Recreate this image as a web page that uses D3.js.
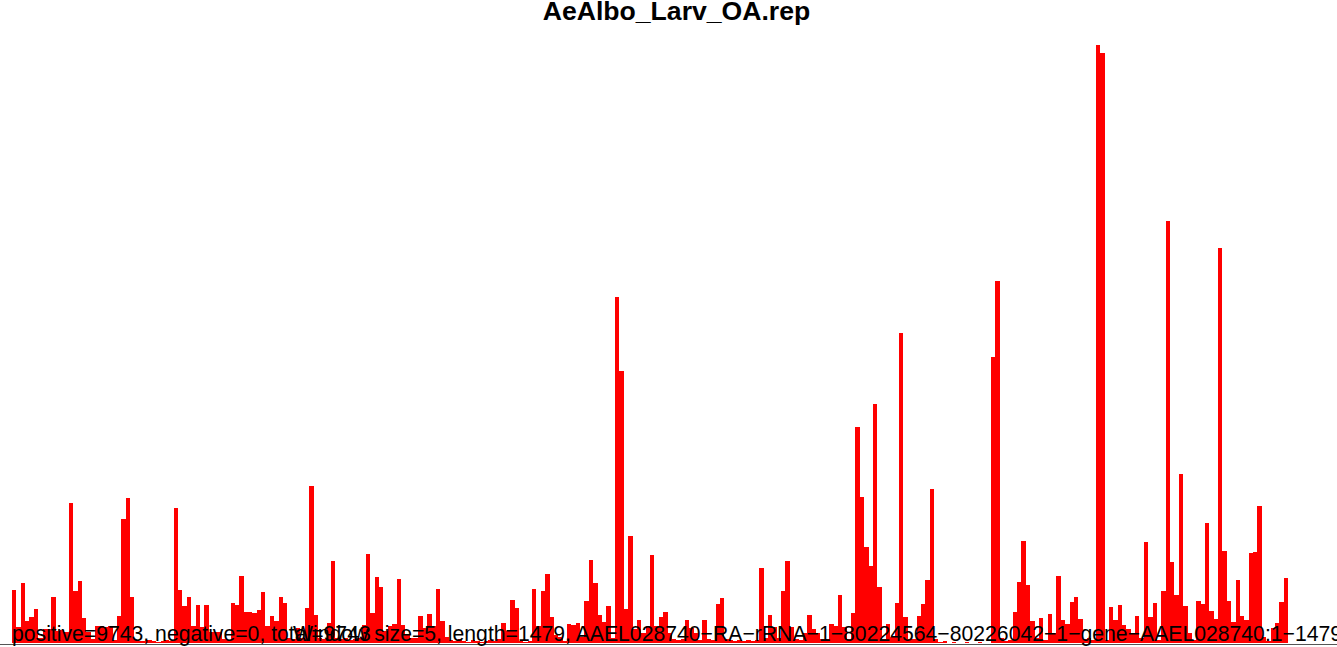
<!DOCTYPE html>
<html>
<head>
<meta charset="utf-8">
<script src="https://cdn.jsdelivr.net/npm/d3@7"></script>
<style>
  html, body { margin: 0; padding: 0; background: #ffffff; }
  svg { display: block; }
  text { font-family: "Liberation Sans", Arial, Helvetica, sans-serif; }
</style>
</head>
<body>
<script>
// ---- data ----
const chartTitle = "AeAlbo_Larv_OA.rep";
const statsLabel = "positive=9743, negative=0, total=9743";
const infoLabel = "Window size=5, length=1479, AAEL028740\u2212RA\u2212rRNA\u22121\u221280224564\u221280226042\u22121\u2212gene\u2212AAEL028740:1\u22121479";
const windowSize = 5;
const seqLength = 1479;

// coverage per 5-nt window (positive strand)
const positive = [
  53,16,60,22,26,34,5,14,14,46, 12,13,11,140,52,62,25,11,4,17,
  17,16,17,3,27,124,145,46,3,2, 2,3,2,1,2,3,2,135,53,37,
  46,17,38,16,38,11,11,11,4,3, 40,38,67,31,31,30,33,51,17,27,
  22,46,40,5,4,15,5,35,157,28, 5,4,20,82,5,4,5,3,4,5,
  18,89,30,66,56,12,17,19,64,18, 8,5,5,27,15,29,17,54,22,6,
  3,2,4,2,1,3,2,1,2,3, 2,4,20,12,43,35,2,1,2,54,
  17,52,69,26,8,6,2,19,18,20, 6,42,83,60,28,21,37,5,346,272,
  34,107,14,23,10,17,88,17,26,31, 10,4,3,4,23,15,10,3,23,4,
  3,39,45,4,3,2,3,2,3,2, 3,75,5,28,16,5,52,82,16,4,
  3,10,28,14,10,4,4,19,17,48, 16,4,30,216,146,96,77,239,56,4,
  19,6,40,310,26,4,4,27,39,63, 154,4,1,2,0,1,0,0,1,0,
  0,1,0,0,286,362,5,2,3,31, 61,102,58,22,5,25,3,29,10,67,
  23,19,41,46,24,4,5,3,598,590, 3,36,23,38,18,14,10,27,5,101,
  26,40,3,52,422,81,48,169,37,10, 3,42,39,120,32,24,395,92,42,21,
  63,27,23,90,91,137,6,2,15,20, 41,65,0,0,0,0
];
// window index (categories)
const windows = positive.map((_, i) => i);

// ---- drawing ----
const W = 1337, H = 647;
const svg = d3.select("body").append("svg").attr("width", W).attr("height", H);

const x = d3.scaleBand()
  .domain(windows)
  .range([12, 12 + windows.length * 4.37])
  .paddingInner(0).paddingOuter(0);

const y = d3.scaleLinear()
  .domain([0, d3.max(positive)])
  .range([643, 45]);

svg.append("g")
  .selectAll("rect")
  .data(positive)
  .join("rect")
  .attr("x", (d, i) => x(windows[i]))
  .attr("width", x.bandwidth())
  .attr("y", d => y(d))
  .attr("height", d => y(0) - y(d))
  .attr("fill", "#ff0000")
  .attr("shape-rendering", "crispEdges");

// baseline
svg.append("line")
  .attr("x1", 0).attr("x2", W)
  .attr("y1", 644.5).attr("y2", 644.5)
  .attr("stroke", "#555555").attr("stroke-width", 1);

// title
svg.append("text")
  .attr("x", W / 2 + 8)
  .attr("y", 19.5)
  .attr("text-anchor", "middle")
  .attr("font-weight", "bold")
  .attr("font-size", 26.6)
  .attr("fill", "#000")
  .text(chartTitle);

// bottom labels
svg.append("text")
  .attr("x", 12).attr("y", 640.5)
  .attr("font-size", 21.2).attr("fill", "#000")
  .text(statsLabel);

svg.append("text")
  .attr("x", 293).attr("y", 640.5)
  .attr("font-size", 21.2).attr("fill", "#000")
  .text(infoLabel);
</script>
</body>
</html>
